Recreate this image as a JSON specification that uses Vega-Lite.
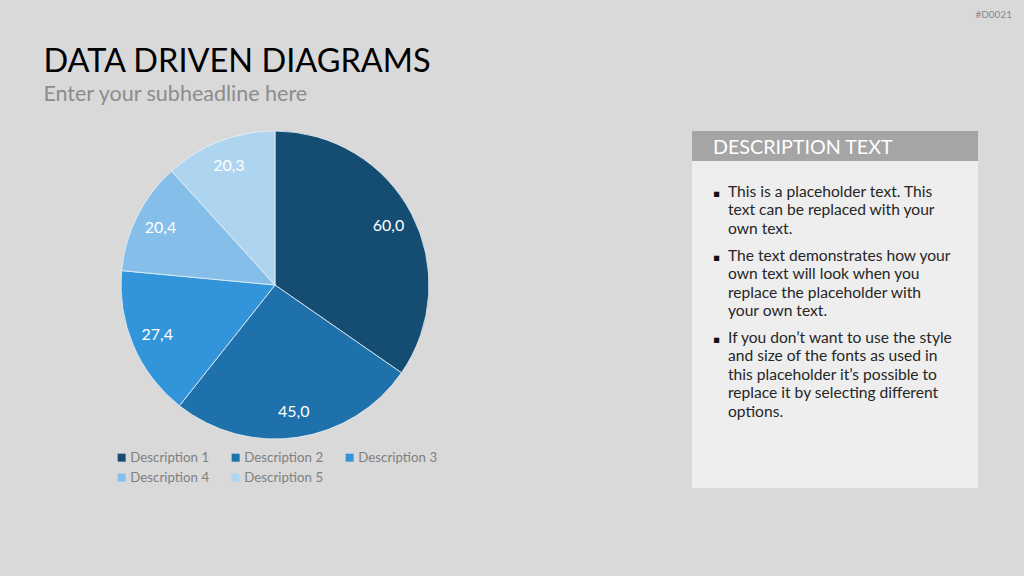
{
  "$schema": "https://vega.github.io/schema/vega-lite/v6.json",
  "background": "#D9D9D9",
  "padding": {"left": 43, "top": 10, "right": 12, "bottom": 88},
  "config": {
    "view": {"stroke": null},
    "font": "Lato, DejaVu Sans",
    "locale": {"number": {"decimal": ",", "thousands": ".", "grouping": [3], "currency": ["", " €"]}}
  },
  "hconcat": [
    {
      "width": 308,
      "height": 308,
      "title": {
        "text": "DATA DRIVEN DIAGRAMS",
        "subtitle": "Enter your subheadline here",
        "anchor": "start",
        "dx": -76,
        "fontSize": 32.5,
        "fontWeight": "normal",
        "color": "#000000",
        "subtitleFontSize": 21.5,
        "subtitleColor": "#8C8C8C",
        "subtitlePadding": 5,
        "offset": 24
      },
      "data": {"values": [
        {"category": "Description 1", "value": 60.0},
        {"category": "Description 2", "value": 45.0},
        {"category": "Description 3", "value": 27.4},
        {"category": "Description 4", "value": 20.4},
        {"category": "Description 5", "value": 20.3}
      ]},
      "encoding": {
        "theta": {"field": "value", "type": "quantitative", "stack": true},
        "order": {"field": "category", "type": "ordinal", "sort": "ascending"},
        "color": {
          "field": "category",
          "type": "nominal",
          "scale": {
            "domain": ["Description 1", "Description 2", "Description 3", "Description 4", "Description 5"],
            "range": ["#154C71", "#1F71AB", "#3395D9", "#85BFE9", "#AED5F0"]
          },
          "legend": {
            "orient": "none",
            "legendX": -6,
            "legendY": 320,
            "direction": "horizontal",
            "title": null,
            "columns": 3,
            "symbolType": "square",
            "symbolSize": 64,
            "symbolStrokeWidth": 0,
            "labelFontSize": 13.3,
            "labelColor": "#808080",
            "labelOffset": 2,
            "columnPadding": 19,
            "rowPadding": 6,
            "padding": 0
          }
        }
      },
      "layer": [
        {"mark": {"type": "arc", "stroke": "#E8F1F8", "strokeWidth": 0.8}},
        {
          "mark": {"type": "text", "radius": 128, "fontSize": 16},
          "encoding": {
            "text": {"field": "value", "type": "quantitative", "format": ".1f"},
            "color": {"value": "#FFFFFF"},
            "detail": {"field": "category"}
          }
        }
      ]
    },
    {
      "vconcat": [
        {
          "width": 286,
          "height": 30,
          "view": {"fill": "#A5A5A5", "stroke": null},
          "title": {"text": "#D0021", "anchor": "end", "dx": 34, "offset": 111, "fontSize": 10, "fontWeight": "normal", "color": "#8A8A8A"},
          "data": {"values": [{"heading": "DESCRIPTION TEXT"}]},
          "mark": {"type": "text", "align": "left", "baseline": "alphabetic", "fontSize": 19.7, "color": "#FFFFFF"},
          "encoding": {
            "text": {"field": "heading"},
            "x": {"value": 21},
            "y": {"value": 22.5}
          }
        },
        {
          "width": 286,
          "height": 327,
          "view": {"fill": "#EEEEEE", "stroke": null},
          "data": {"values": [
            {"para": 1, "bullet": "▪", "text": "This is a placeholder text. This\ntext can be replaced with your\nown text."},
            {"para": 2, "bullet": "▪", "text": "The text demonstrates how your\nown text will look when you\nreplace the placeholder with\nyour own text."},
            {"para": 3, "bullet": "▪", "text": "If you don’t want to use the style\nand size of the fonts as used in\nthis placeholder it’s possible to\nreplace it by selecting different\noptions."}
          ]},
          "layer": [
            {
              "transform": [{"filter": "datum.para == 1"}],
              "layer": [
                {"mark": {"type": "text", "align": "center", "baseline": "alphabetic", "fontSize": 10.5, "font": "DejaVu Sans", "color": "#111111"},
                 "encoding": {"text": {"field": "bullet"}, "x": {"value": 24.5}, "y": {"value": 36}}},
                {"mark": {"type": "text", "align": "left", "baseline": "alphabetic", "fontSize": 15.6, "lineHeight": 18.4, "lineBreak": "\n", "color": "#262626"},
                 "encoding": {"text": {"field": "text"}, "x": {"value": 36}, "y": {"value": 36}}}
              ]
            },
            {
              "transform": [{"filter": "datum.para == 2"}],
              "layer": [
                {"mark": {"type": "text", "align": "center", "baseline": "alphabetic", "fontSize": 10.5, "font": "DejaVu Sans", "color": "#111111"},
                 "encoding": {"text": {"field": "bullet"}, "x": {"value": 24.5}, "y": {"value": 100}}},
                {"mark": {"type": "text", "align": "left", "baseline": "alphabetic", "fontSize": 15.6, "lineHeight": 18.4, "lineBreak": "\n", "color": "#262626"},
                 "encoding": {"text": {"field": "text"}, "x": {"value": 36}, "y": {"value": 100}}}
              ]
            },
            {
              "transform": [{"filter": "datum.para == 3"}],
              "layer": [
                {"mark": {"type": "text", "align": "center", "baseline": "alphabetic", "fontSize": 10.5, "font": "DejaVu Sans", "color": "#111111"},
                 "encoding": {"text": {"field": "bullet"}, "x": {"value": 24.5}, "y": {"value": 182}}},
                {"mark": {"type": "text", "align": "left", "baseline": "alphabetic", "fontSize": 15.6, "lineHeight": 18.4, "lineBreak": "\n", "color": "#262626"},
                 "encoding": {"text": {"field": "text"}, "x": {"value": 36}, "y": {"value": 182}}}
              ]
            }
          ]
        }
      ],
      "spacing": 0,
      "bounds": "flush"
    }
  ],
  "spacing": 263,
  "bounds": "flush"
}
